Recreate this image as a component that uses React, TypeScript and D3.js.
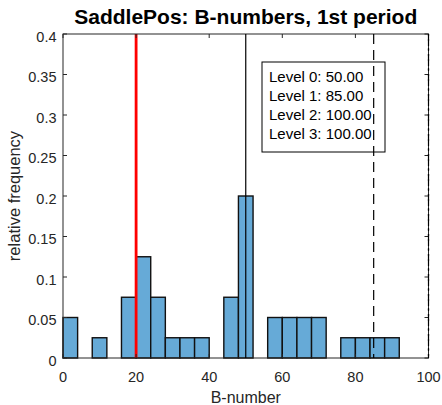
import React from "react";
import * as d3 from "d3";

// Histogram bin edges (width 4) and relative frequencies per bin
const binStarts = [0, 4, 8, 12, 16, 20, 24, 28, 32, 36, 40, 44, 48, 52, 56, 60, 64, 68, 72, 76, 80, 84, 88, 92, 96];
const binWidth = 4;
const frequencies = [0.05, 0, 0.025, 0, 0.075, 0.125, 0.075, 0.025, 0.025, 0.025, 0, 0.075, 0.2, 0, 0.05, 0.05, 0.05, 0.05, 0, 0.025, 0.025, 0.025, 0.025, 0, 0];

// Level markers
const levelNames = ["Level 0", "Level 1", "Level 2", "Level 3"];
const levelValues = [50, 85, 100, 100];
const saddleValue = 20;

const xTicks = [0, 20, 40, 60, 80, 100];
const yTicks = [0, 0.05, 0.1, 0.15, 0.2, 0.25, 0.3, 0.35, 0.4];

const W = 442;
const H = 405;
const left = 63;
const right = 428.5;
const top = 34;
const bottom = 358;

export default function App() {
  const x = d3.scaleLinear().domain([0, 100]).range([left, right]);
  const y = d3.scaleLinear().domain([0, 0.4]).range([bottom, top]);
  const axisColor = "#262626";
  const font = "'Liberation Sans', Arial, Helvetica, sans-serif";
  const tickLen = 4;
  const levelDash = ["none", "10,6", "10,4,2,4", "2,3"];

  return (
    <svg width={W} height={H} style={{ position: "absolute", left: 0, top: 0, background: "#fff" }}>
      <rect x={0} y={0} width={W} height={H} fill="#fff" />
      {/* bars */}
      {binStarts.map((b, i) => (
        <rect
          key={i}
          x={x(b)}
          y={y(frequencies[i])}
          width={x(b + binWidth) - x(b)}
          height={y(0) - y(frequencies[i])}
          fill="#66aad7"
          stroke="#111"
          strokeWidth={1.4}
        />
      ))}
      {/* saddle position */}
      <line x1={x(saddleValue)} x2={x(saddleValue)} y1={top} y2={bottom} stroke="#ff0000" strokeWidth={2.8} />
      {/* axes box */}
      <rect x={left} y={top} width={right - left} height={bottom - top} fill="none" stroke={axisColor} strokeWidth={1} />
      {xTicks.map((t) => (
        <g key={"x" + t}>
          <line x1={x(t)} x2={x(t)} y1={bottom} y2={bottom - tickLen} stroke={axisColor} />
          <line x1={x(t)} x2={x(t)} y1={top} y2={top + tickLen} stroke={axisColor} />
          <text x={x(t)} y={bottom + 24} textAnchor="middle" fontSize={14.5} fontFamily={font} fill={axisColor}>
            {t}
          </text>
        </g>
      ))}
      {yTicks.map((t) => (
        <g key={"y" + t}>
          <line x1={left} x2={left + tickLen} y1={y(t)} y2={y(t)} stroke={axisColor} />
          <line x1={right} x2={right - tickLen} y1={y(t)} y2={y(t)} stroke={axisColor} />
          <text x={left - 6.5} y={y(t) + 7.5} textAnchor="end" fontSize={14.5} fontFamily={font} fill={axisColor}>
            {String(t)}
          </text>
        </g>
      ))}
      {/* level lines */}
      {levelValues.map((v, i) => (
        <line
          key={"lv" + i}
          x1={x(v)}
          x2={x(v)}
          y1={top}
          y2={bottom}
          stroke="#000"
          strokeWidth={1.2}
          strokeDasharray={levelDash[i]}
        />
      ))}
      {/* level annotation */}
      <rect x={262} y={62} width={123} height={90} fill="none" stroke="#000" strokeWidth={1} />
      {levelNames.map((n, i) => (
        <text key={"lt" + i} x={269} y={82 + i * 19} fontSize={15} fontFamily={font} fill="#000">
          {`${n}: ${levelValues[i].toFixed(2)}`}
        </text>
      ))}
      {/* labels */}
      <text x={(left + right) / 2} y={24} textAnchor="middle" fontSize={21} fontWeight="bold" fontFamily={font} fill="#000">
        SaddlePos: B-numbers, 1st period
      </text>
      <text x={(left + right) / 2} y={402.5} textAnchor="middle" fontSize={16} fontFamily={font} fill={axisColor}>
        B-number
      </text>
      <text
        transform={`translate(19.5,${(top + bottom) / 2}) rotate(-90)`}
        textAnchor="middle"
        fontSize={16.5}
        fontFamily={font}
        fill={axisColor}
      >
        relative frequency
      </text>
    </svg>
  );
}
